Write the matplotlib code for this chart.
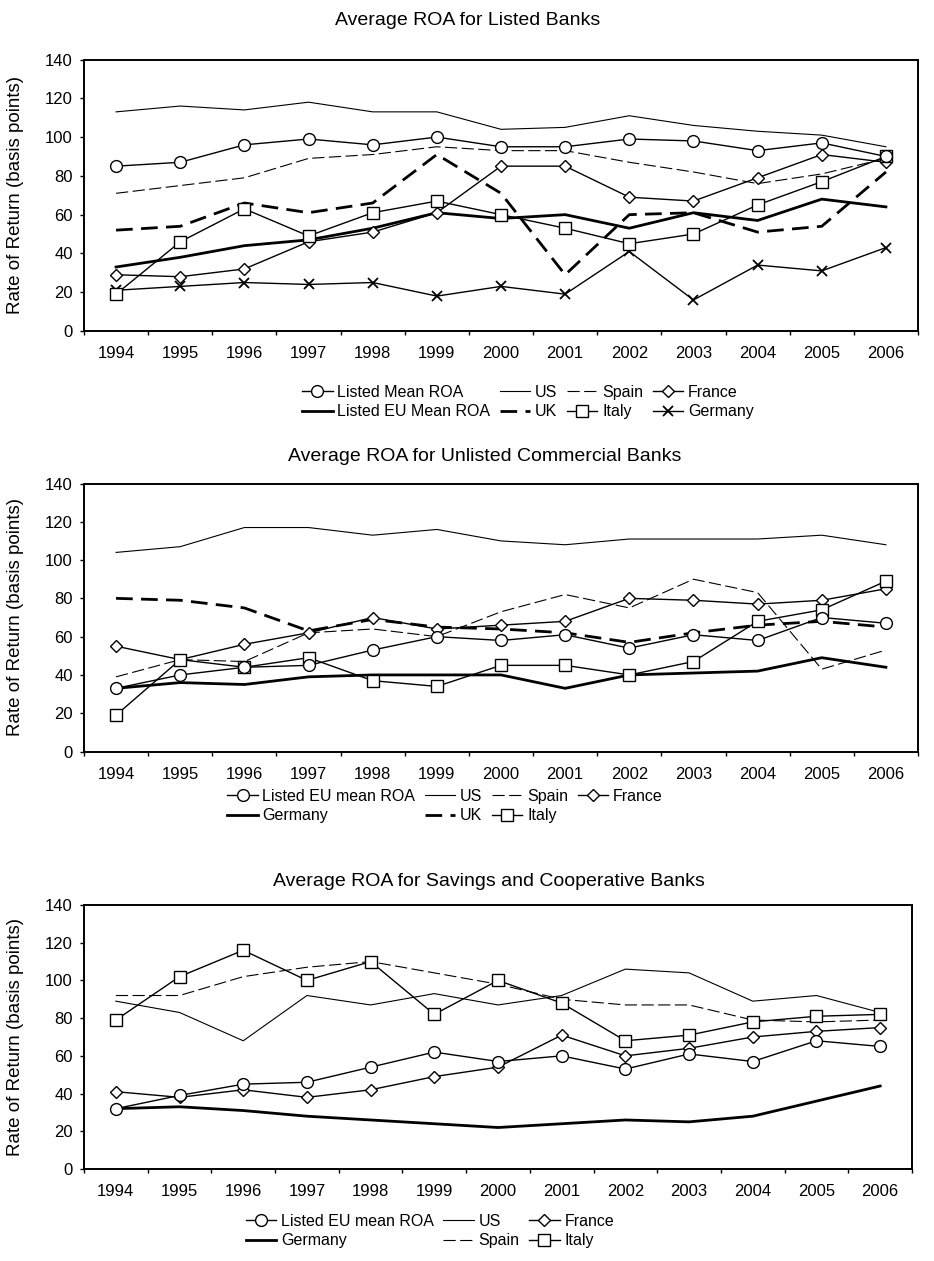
import matplotlib
matplotlib.use("Agg")
import matplotlib.pyplot as plt
from matplotlib.lines import Line2D

plt.rcParams['font.family'] = ['Liberation Sans', 'DejaVu Sans']

years = ['1994', '1995', '1996', '1997', '1998', '1999', '2000',
         '2001', '2002', '2003', '2004', '2005', '2006']

# Listed banks
p1_listed_mean = [85, 87, 96, 99, 96, 100, 95, 95, 99, 98, 93, 97, 90]
p1_us = [113, 116, 114, 118, 113, 113, 104, 105, 111, 106, 103, 101, 95]
p1_spain = [71, 75, 79, 89, 91, 95, 93, 93, 87, 82, 76, 81, 89]
p1_france = [29, 28, 32, 46, 51, 61, 85, 85, 69, 67, 79, 91, 87]
p1_eu_mean = [33, 38, 44, 47, 53, 61, 58, 60, 53, 61, 57, 68, 64]
p1_uk = [52, 54, 66, 61, 66, 91, 71, 29, 60, 61, 51, 54, 82]
p1_italy = [19, 46, 63, 49, 61, 67, 60, 53, 45, 50, 65, 77, 90]
p1_germany = [21, 23, 25, 24, 25, 18, 23, 19, 41, 16, 34, 31, 43]

# Unlisted commercial banks
p2_eu_mean = [33, 40, 44, 45, 53, 60, 58, 61, 54, 61, 58, 70, 67]
p2_us = [104, 107, 117, 117, 113, 116, 110, 108, 111, 111, 111, 113, 108]
p2_spain = [39, 48, 47, 62, 64, 60, 73, 82, 75, 90, 83, 43, 53]
p2_france = [55, 48, 56, 62, 70, 64, 66, 68, 80, 79, 77, 79, 85]
p2_germany = [33, 36, 35, 39, 40, 40, 40, 33, 40, 41, 42, 49, 44]
p2_uk = [80, 79, 75, 63, 69, 65, 64, 62, 57, 62, 66, 68, 65]
p2_italy = [19, 48, 44, 49, 37, 34, 45, 45, 40, 47, 68, 74, 89]

# Savings and cooperative banks
p3_eu_mean = [32, 39, 45, 46, 54, 62, 57, 60, 53, 61, 57, 68, 65]
p3_us = [89, 83, 68, 92, 87, 93, 87, 92, 106, 104, 89, 92, 83]
p3_france = [41, 38, 42, 38, 42, 49, 54, 71, 60, 64, 70, 73, 75]
p3_germany = [32, 33, 31, 28, 26, 24, 22, 24, 26, 25, 28, 36, 44]
p3_spain = [92, 92, 102, 107, 110, 104, 98, 90, 87, 87, 79, 78, 79]
p3_italy = [79, 102, 116, 100, 110, 82, 100, 88, 68, 71, 78, 81, 82]

# line styles
thin = dict(color='black', lw=0.8)
thick = dict(color='black', lw=2.0)
circ = dict(color='black', lw=1.0, marker='o', ms=8.5, mfc='white', mec='black', mew=1.0)
diam = dict(color='black', lw=1.0, marker='D', ms=6.5, mfc='white', mec='black', mew=1.0)
squ = dict(color='black', lw=1.0, marker='s', ms=8, mfc='white', mec='black', mew=1.0)
cross = dict(color='black', lw=1.0, marker='x', ms=7, mew=1.3)
spain_st = dict(color='black', lw=0.8, dashes=(11, 4))
uk_st = dict(color='black', lw=2.0, dashes=(6, 3))

fig = plt.figure(figsize=(9.34, 12.61), dpi=100)
x = list(range(len(years)))


def setup(ax, title, tx, pad, ylx):
    ax.set_xlim(-0.5, len(years) - 0.5)
    ax.set_ylim(0, 140)
    ax.set_yticks(range(0, 141, 20))
    ax.set_xticks(x)
    ax.set_xticklabels(years)
    ax.set_xticks([i - 0.5 for i in range(len(years) + 1)], minor=True)
    ax.tick_params(axis='x', which='major', length=0, pad=11, labelsize=12)
    ax.tick_params(axis='x', which='minor', length=3, width=1, direction='out')
    ax.tick_params(axis='y', length=3, width=1, direction='out', pad=5, labelsize=12)
    for s in ax.spines.values():
        s.set_linewidth(1.4)
    ax.set_ylabel('Rate of Return (basis points)', fontsize=13.5)
    ax.yaxis.set_label_coords(ylx, 0.5)
    ax.set_title(title, fontsize=14, x=tx, pad=pad)


leg_kw = dict(frameon=False, fontsize=11.5, handlelength=1.9, handletextpad=0.3,
              columnspacing=0.6, labelspacing=0.3, borderpad=0, borderaxespad=0)

# panel 1
ax1 = fig.add_axes([84 / 934, 1 - 331 / 1261, 834 / 934, 271.5 / 1261])
ax1.plot(x, p1_us, **thin)
ax1.plot(x, p1_spain, **spain_st)
ax1.plot(x, p1_uk, **uk_st)
ax1.plot(x, p1_eu_mean, **thick)
ax1.plot(x, p1_germany, **cross)
ax1.plot(x, p1_france, **diam)
ax1.plot(x, p1_italy, **squ)
ax1.plot(x, p1_listed_mean, **circ)
setup(ax1, 'Average ROA for Listed Banks', 0.46, 25, -0.072)

h1 = [Line2D([], [], **circ), Line2D([], [], **thick),
      Line2D([], [], **thin), Line2D([], [], **uk_st),
      Line2D([], [], **spain_st), Line2D([], [], **squ),
      Line2D([], [], **diam), Line2D([], [], **cross)]
l1 = ['Listed Mean ROA', 'Listed EU Mean ROA', 'US', 'UK', 'Spain', 'Italy', 'France', 'Germany']
ax1.legend(h1, l1, ncol=4, loc='center', bbox_to_anchor=(528 / 934, 1 - 402 / 1261),
           bbox_transform=fig.transFigure, **leg_kw)

# panel 2
ax2 = fig.add_axes([84 / 934, 1 - 751.5 / 1261, 834 / 934, 268 / 1261])
ax2.plot(x, p2_us, **thin)
ax2.plot(x, p2_spain, **spain_st)
ax2.plot(x, p2_uk, **uk_st)
ax2.plot(x, p2_germany, **thick)
ax2.plot(x, p2_france, **diam)
ax2.plot(x, p2_italy, **squ)
ax2.plot(x, p2_eu_mean, **circ)
setup(ax2, 'Average ROA for Unlisted Commercial Banks', 0.48, 16, -0.072)

h2 = [Line2D([], [], **circ), Line2D([], [], **thick),
      Line2D([], [], **thin), Line2D([], [], **uk_st),
      Line2D([], [], **spain_st), Line2D([], [], **squ),
      Line2D([], [], **diam)]
l2 = ['Listed EU mean ROA', 'Germany', 'US', 'UK', 'Spain', 'Italy', 'France']
ax2.legend(h2, l2, ncol=4, loc='center', bbox_to_anchor=(445 / 934, 1 - 806 / 1261),
           bbox_transform=fig.transFigure, **leg_kw)

# panel 3
ax3 = fig.add_axes([84 / 934, 1 - 1169 / 1261, 828 / 934, 264 / 1261])
ax3.plot(x, p3_us, **thin)
ax3.plot(x, p3_spain, **spain_st)
ax3.plot(x, p3_germany, **thick)
ax3.plot(x, p3_france, **diam)
ax3.plot(x, p3_italy, **squ)
ax3.plot(x, p3_eu_mean, **circ)
setup(ax3, 'Average ROA for Savings and Cooperative Banks', 0.489, 14, -0.073)

h3 = [Line2D([], [], **circ), Line2D([], [], **thick),
      Line2D([], [], **thin), Line2D([], [], **spain_st),
      Line2D([], [], **diam), Line2D([], [], **squ)]
l3 = ['Listed EU mean ROA', 'Germany', 'US', 'Spain', 'France', 'Italy']
ax3.legend(h3, l3, ncol=3, loc='center', bbox_to_anchor=(430 / 934, 1 - 1231 / 1261),
           bbox_transform=fig.transFigure, **leg_kw)

fig.savefig('out.png', dpi=100)
